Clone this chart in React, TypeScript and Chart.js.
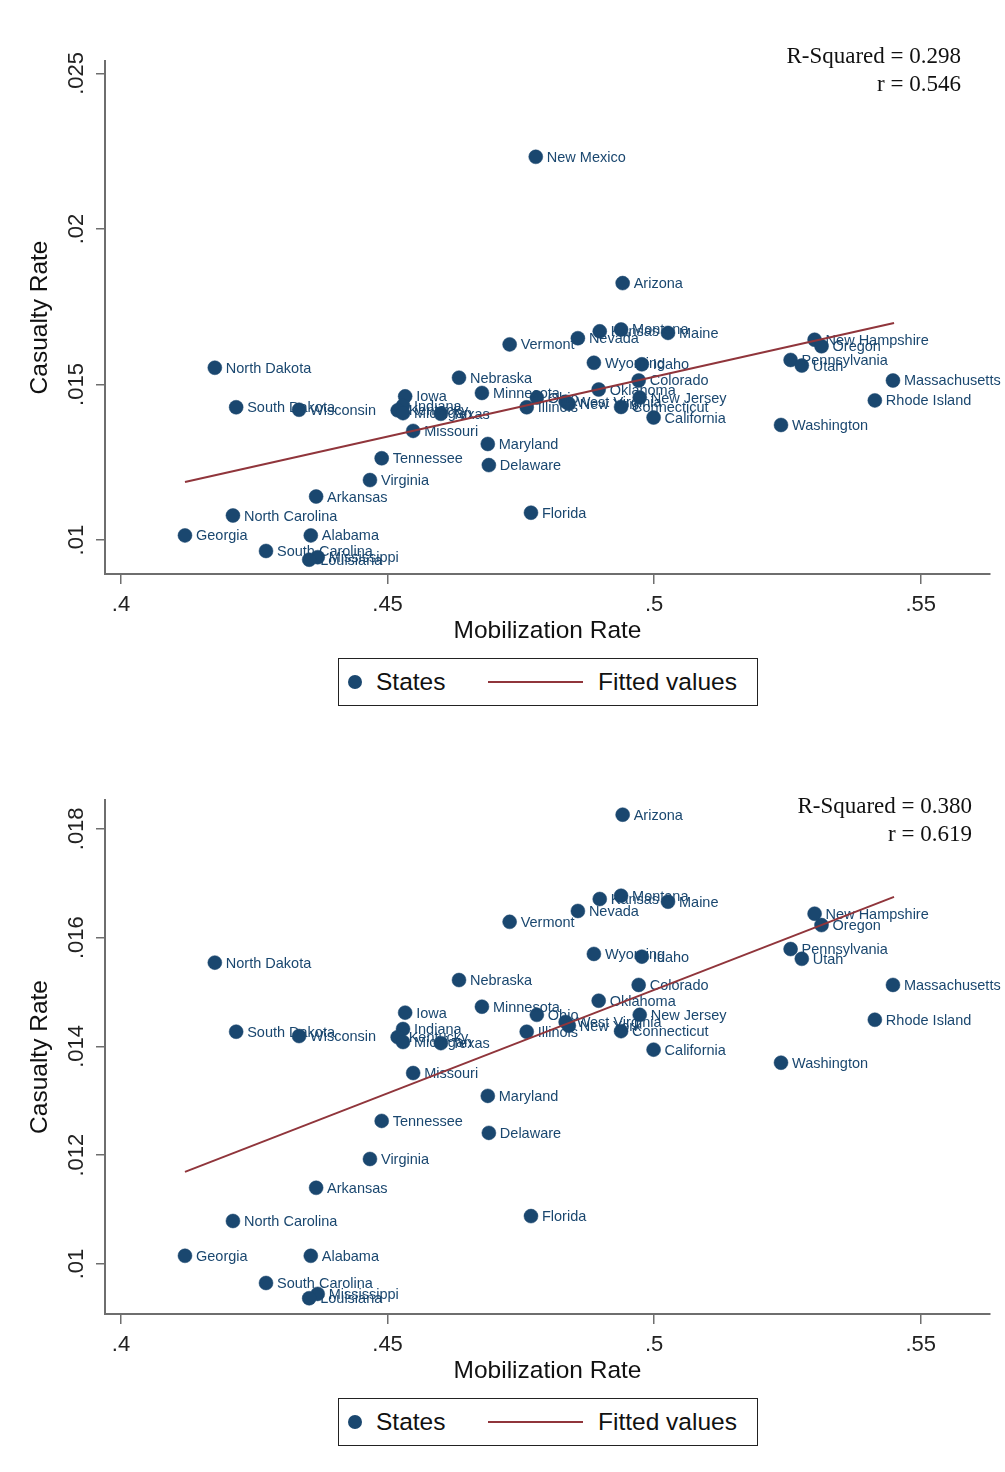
import React, { useEffect, useRef } from 'react';
import { Chart, registerables } from 'chart.js';

Chart.register(...registerables);

// ---------- Data ----------
const states = [
  'Arizona', 'Montana', 'Kansas', 'Maine', 'Nevada', 'Vermont', 'Wyoming', 'Idaho', 'Colorado', 'Oklahoma',
  'New Jersey', 'Ohio', 'Minnesota', 'Illinois', 'West Virginia', 'New York', 'Connecticut', 'California', 'Nebraska', 'South Dakota',
  'Wisconsin', 'Iowa', 'Indiana', 'Kentucky', 'Michigan', 'Texas', 'Missouri', 'North Dakota', 'Maryland', 'Delaware',
  'Tennessee', 'Virginia', 'Arkansas', 'North Carolina', 'Georgia', 'Alabama', 'South Carolina', 'Mississippi', 'Louisiana', 'Florida',
  'Washington', 'Massachusetts', 'Rhode Island', 'New Hampshire', 'Oregon', 'Pennsylvania', 'Utah', 'New Mexico',
];

const mobilizationRate = [
  0.4941, 0.4938, 0.4898, 0.5026, 0.4857, 0.4729, 0.4887, 0.4977, 0.4971, 0.4896,
  0.4973, 0.4780, 0.4677, 0.4761, 0.4834, 0.4840, 0.4938, 0.4999, 0.4634, 0.4216,
  0.4334, 0.4533, 0.4529, 0.4519, 0.4529, 0.4600, 0.4548, 0.4176, 0.4688, 0.4690,
  0.4489, 0.4467, 0.4366, 0.4210, 0.4120, 0.4356, 0.4272, 0.4369, 0.4353, 0.4769,
  0.5238, 0.5448, 0.5414, 0.5301, 0.5314, 0.5256, 0.5277, 0.4778,
];

const casualtyRate = [
  0.01826, 0.01677, 0.01671, 0.01666, 0.01649, 0.01629, 0.01570, 0.01565, 0.01513, 0.01484,
  0.01458, 0.01458, 0.01473, 0.01427, 0.01445, 0.01438, 0.01428, 0.01394, 0.01522, 0.01427,
  0.01419, 0.01462, 0.01432, 0.01417, 0.01408, 0.01406, 0.01351, 0.01554, 0.01309, 0.01241,
  0.01263, 0.01193, 0.01140, 0.01079, 0.01015, 0.01015, 0.00965, 0.00945, 0.00937, 0.01088,
  0.01370, 0.01513, 0.01449, 0.01644, 0.01623, 0.01579, 0.01561, 0.02232,
];

const excludedFromSecond = ['New Mexico'];

const fitX = [0.412, 0.545];
const fit1Y = [0.011865, 0.016977];
const fit2Y = [0.011692, 0.016749];

const xTickValues = [0.4, 0.45, 0.5, 0.55];
const xTickLabels = ['.4', '.45', '.5', '.55'];

const y1TickValues = [0.01, 0.015, 0.02, 0.025];
const y1TickLabels = ['.01', '.015', '.02', '.025'];

const y2TickValues = [0.01, 0.012, 0.014, 0.016, 0.018];
const y2TickLabels = ['.01', '.012', '.014', '.016', '.018'];

const stats1 = ['R-Squared = 0.298', 'r = 0.546'];
const stats2 = ['R-Squared = 0.380', 'r = 0.619'];

const legendLabels = ['States', 'Fitted values'];
const axisTitles = { x: 'Mobilization Rate', y: 'Casualty Rate' };

// ---------- Styles ----------
const SANS = 'Arial, "Liberation Sans", sans-serif';
const SERIF = '"Liberation Serif", "Times New Roman", serif';
const NAVY = '#1a476f';
const MAROON = '#90353b';
const AXIS = '#6e6e6e';

type PanelProps = {
  top: number;
  names: string[];
  xs: number[];
  ys: number[];
  fitY: number[];
  yMin: number;
  yMax: number;
  yTicks: number[];
  yLabels: string[];
  stats: string[];
  statsRight: number;
  statsBaseline: number;
  padTop: number;
};

function ScatterPanel(p: PanelProps) {
  const ref = useRef<HTMLCanvasElement>(null);

  useEffect(() => {
    if (!ref.current) return;
    const labelPlugin = {
      id: 'pointLabels',
      afterDatasetDraw(chart: any, args: any) {
        if (args.index !== 1) return;
        const meta = chart.getDatasetMeta(1);
        const ctx = chart.ctx;
        ctx.save();
        ctx.font = `14.5px ${SANS}`;
        ctx.fillStyle = NAVY;
        ctx.textAlign = 'left';
        ctx.textBaseline = 'middle';
        meta.data.forEach((el: any, i: number) => {
          ctx.fillText(p.names[i], el.x + 11, el.y + 1);
        });
        ctx.restore();
      },
    };
    const statsPlugin = {
      id: 'stats',
      afterDraw(chart: any) {
        const ctx = chart.ctx;
        ctx.save();
        ctx.font = `23px ${SERIF}`;
        ctx.fillStyle = '#111';
        ctx.textAlign = 'right';
        ctx.textBaseline = 'alphabetic';
        p.stats.forEach((s, i) => ctx.fillText(s, p.statsRight, p.statsBaseline + i * 28));
        ctx.restore();
      },
    };

    const chart = new Chart(ref.current, {
      type: 'scatter',
      data: {
        datasets: [
          {
            type: 'line',
            label: legendLabels[1],
            data: fitX.map((x, i) => ({ x, y: p.fitY[i] })),
            borderColor: MAROON,
            backgroundColor: MAROON,
            borderWidth: 2,
            pointRadius: 0,
            fill: false,
            order: 0,
          } as any,
          {
            type: 'scatter',
            label: legendLabels[0],
            data: p.xs.map((x, i) => ({ x, y: p.ys[i] })),
            backgroundColor: NAVY,
            borderColor: NAVY,
            borderWidth: 0.5,
            pointRadius: 7,
            order: 1,
          },
        ],
      },
      options: {
        animation: false,
        responsive: false,
        events: [],
        layout: { padding: { left: 0, right: 15, top: p.padTop, bottom: 76 } },
        plugins: { legend: { display: false }, tooltip: { enabled: false } },
        scales: {
          x: {
            type: 'linear',
            min: 0.397,
            max: 0.563,
            afterBuildTicks: (s: any) => {
              s.ticks = xTickValues.map((v) => ({ value: v }));
            },
            afterFit: (s: any) => {
              s.height = 80;
            },
            ticks: {
              callback: (_v: any, i: number) => xTickLabels[i],
              font: { size: 22, family: SANS },
              color: '#222',
              padding: 8,
              maxRotation: 0,
              autoSkip: false,
            },
            grid: { display: true, drawOnChartArea: false, drawTicks: true, tickLength: 10, color: AXIS, lineWidth: 1.5 },
            border: { display: true, color: AXIS, width: 2 },
            title: {
              display: true,
              text: axisTitles.x,
              font: { size: 24.5, family: SANS },
              color: '#111',
              padding: { top: 0, bottom: 8 },
            },
          },
          y: {
            type: 'linear',
            position: 'left',
            min: p.yMin,
            max: p.yMax,
            afterBuildTicks: (s: any) => {
              s.ticks = p.yTicks.map((v) => ({ value: v }));
            },
            afterFit: (s: any) => {
              s.width = 105;
            },
            ticks: {
              callback: (_v: any, i: number) => p.yLabels[i],
              font: { size: 22, family: SANS },
              color: '#222',
              padding: -2.5,
              minRotation: 90,
              maxRotation: 90,
              crossAlign: 'center',
              autoSkip: false,
            },
            grid: { display: true, drawOnChartArea: false, drawTicks: true, tickLength: 9, color: AXIS, lineWidth: 1.5 },
            border: { display: true, color: AXIS, width: 2 },
            title: {
              display: true,
              text: axisTitles.y,
              font: { size: 24.5, family: SANS },
              color: '#111',
              padding: { top: 26, bottom: 0 },
            },
          },
        },
      } as any,
      plugins: [labelPlugin, statsPlugin],
    });
    return () => chart.destroy();
  }, []);

  return (
    <>
      <canvas
        ref={ref}
        width={1005}
        height={730}
        style={{ position: 'absolute', left: 0, top: p.top, width: 1005, height: 730, display: 'block' }}
      />
      <div
        style={{
          position: 'absolute',
          left: 338,
          top: p.top + 658,
          width: 420,
          height: 48,
          border: '1px solid #222',
          boxSizing: 'border-box',
          background: '#fff',
          fontFamily: SANS,
          fontSize: 24.5,
          color: '#111',
        }}
      >
        <span
          style={{
            position: 'absolute',
            left: 9,
            top: 16,
            width: 14,
            height: 14,
            borderRadius: '50%',
            background: NAVY,
          }}
        />
        <span style={{ position: 'absolute', left: 37, top: 0, lineHeight: '46px', whiteSpace: 'nowrap' }}>
          {legendLabels[0]}
        </span>
        <span
          style={{ position: 'absolute', left: 149, top: 22, width: 95, height: 2, background: MAROON }}
        />
        <span style={{ position: 'absolute', left: 259, top: 0, lineHeight: '46px', whiteSpace: 'nowrap' }}>
          {legendLabels[1]}
        </span>
      </div>
    </>
  );
}

export default function App() {
  const keep = states.map((s) => !excludedFromSecond.includes(s));
  const names2 = states.filter((_, i) => keep[i]);
  const xs2 = mobilizationRate.filter((_, i) => keep[i]);
  const ys2 = casualtyRate.filter((_, i) => keep[i]);

  return (
    <div style={{ position: 'absolute', left: 0, top: 0, width: 1005, height: 1472, background: '#fff', overflow: 'hidden' }}>
      <ScatterPanel
        top={0}
        names={states}
        xs={mobilizationRate}
        ys={casualtyRate}
        fitY={fit1Y}
        yMin={0.00891}
        yMax={0.0254}
        yTicks={y1TickValues}
        yLabels={y1TickLabels}
        stats={stats1}
        statsRight={961}
        statsBaseline={63}
        padTop={61}
      />
      <ScatterPanel
        top={740}
        names={names2}
        xs={xs2}
        ys={ys2}
        fitY={fit2Y}
        yMin={0.00908}
        yMax={0.01853}
        yTicks={y2TickValues}
        yLabels={y2TickLabels}
        stats={stats2}
        statsRight={972}
        statsBaseline={73}
        padTop={60}
      />
    </div>
  );
}
